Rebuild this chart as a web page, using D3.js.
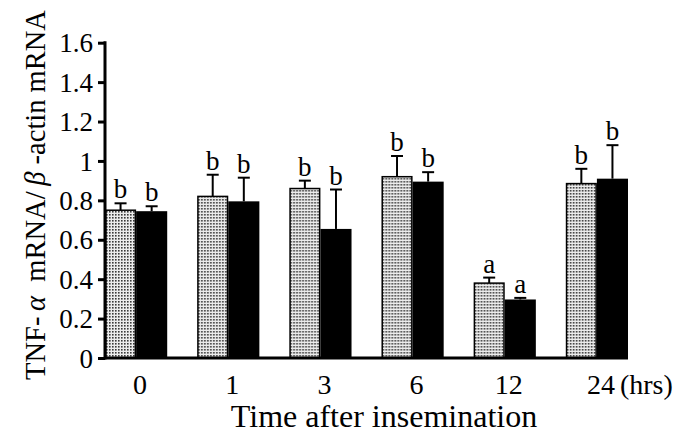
<!DOCTYPE html>
<html>
<head>
<meta charset="utf-8">
<script src="https://cdn.jsdelivr.net/npm/d3@7"></script>
<style>
body{margin:0;background:#fff;}
svg text{font-family:"Liberation Serif","Times New Roman",serif;fill:#000;}
</style>
</head>
<body>
<svg id="chart" width="691" height="442"></svg>
<script>
let categories=["0","1","3","6","12","24"];
let series=["gray","black"];
let grayMeans=[0.75,0.82,0.86,0.92,0.38,0.885];
let graySE=[0.035,0.11,0.04,0.105,0.028,0.075];
let grayLetters=["b","b","b","b","a","b"];
let blackMeans=[0.745,0.795,0.655,0.895,0.297,0.91];
let blackSE=[0.025,0.12,0.2,0.048,0.008,0.17];
let blackLetters=["b","b","b","b","a","b"];
let yTicks=[0,0.2,0.4,0.6,0.8,1,1.2,1.4,1.6];

const render=()=>{
  let svg=d3.select("#chart");
  let x=d3.scaleBand().domain(categories).range([105,628]).paddingInner(0.325).paddingOuter(0);
  let xs=d3.scaleBand().domain(series).range([0,x.bandwidth()]);
  let y=d3.scaleLinear().domain([0,1.6]).range([358,42.7]);

  let defs=svg.append("defs");
  let pat=defs.append("pattern")
    .attr("id","dots")
    .attr("patternUnits","userSpaceOnUse")
    .attr("width",3)
    .attr("height",3);
  pat.append("rect").attr("width",3).attr("height",3).attr("fill","#ececec");
  pat.append("rect").attr("x",1).attr("y",1).attr("width",1.6).attr("height",1.6).attr("fill","#3a3a3a");

  let rows=categories.map((c,i)=>[
    {cat:c,s:"gray",v:grayMeans[i],e:graySE[i],l:grayLetters[i]},
    {cat:c,s:"black",v:blackMeans[i],e:blackSE[i],l:blackLetters[i]}
  ]).flat();

  let bar=svg.append("g").selectAll("g")
    .data(rows)
    .enter()
      .append("g")
      .attr("transform",(d)=>`translate(${x(d.cat)+xs(d.s)},0)`);

  bar.append("line")
    .attr("x1",xs.bandwidth()/2)
    .attr("x2",xs.bandwidth()/2)
    .attr("y1",(d)=>y(d.v))
    .attr("y2",(d)=>y(d.v+d.e))
    .attr("stroke","#000")
    .attr("stroke-width",2);
  bar.append("line")
    .attr("x1",xs.bandwidth()/2-6)
    .attr("x2",xs.bandwidth()/2+6)
    .attr("y1",(d)=>y(d.v+d.e))
    .attr("y2",(d)=>y(d.v+d.e))
    .attr("stroke","#000")
    .attr("stroke-width",2);
  bar.append("rect")
    .attr("x",(d)=>d.s=="gray"?0.75:0)
    .attr("y",(d)=>y(d.v))
    .attr("width",(d)=>d.s=="gray"?xs.bandwidth()-1.5:xs.bandwidth())
    .attr("height",(d)=>y(0)-y(d.v))
    .attr("fill",(d)=>d.s=="gray"?"url(#dots)":"#000")
    .attr("stroke","#000")
    .attr("stroke-width",(d)=>d.s=="gray"?1.5:0);
  bar.append("text")
    .attr("x",xs.bandwidth()/2)
    .attr("y",(d)=>y(d.v+d.e)-5)
    .attr("text-anchor","middle")
    .style("font-size","27px")
    .text((d)=>d.l);

  let yAxis=svg.append("g")
    .attr("transform","translate(105,0)")
    .call(d3.axisLeft(y).tickValues(yTicks).tickSize(7).tickPadding(5).tickFormat(d3.format("")))
    .attr("font-family","Liberation Serif")
    .attr("font-size",27);
  yAxis.select(".domain").remove();
  yAxis.selectAll("line").attr("stroke","#000").attr("stroke-width",3);
  yAxis.selectAll("text").attr("dy","0.34em");
  svg.append("line")
    .attr("x1",105).attr("x2",105)
    .attr("y1",y(1.6)-1.5).attr("y2",y(0)+1.5)
    .attr("stroke","#000").attr("stroke-width",3);
  svg.append("line")
    .attr("x1",105).attr("x2",x.range()[1])
    .attr("y1",y(0)).attr("y2",y(0))
    .attr("stroke","#000").attr("stroke-width",3);

  svg.append("g").selectAll("text")
    .data(categories)
    .enter()
      .append("text")
      .attr("x",(d)=>x(d)+x.bandwidth()/2+4)
      .attr("y",394)
      .attr("text-anchor","middle")
      .style("font-size","28px")
      .text((d)=>d);
  svg.append("text")
    .attr("x",x("24")+x.bandwidth()/2+23)
    .attr("y",394)
    .style("font-size","28px")
    .text("(hrs)");

  svg.append("text")
    .attr("x",384)
    .attr("y",427)
    .attr("text-anchor","middle")
    .style("font-size","32px")
    .text("Time after insemination");

  let yt=svg.append("text")
    .attr("transform","translate(45,195) rotate(-90)")
    .attr("text-anchor","middle")
    .style("font-size","28.5px");
  yt.append("tspan").text("TNF-\u2009");
  yt.append("tspan").style("font-style","italic").text("\u03b1");
  yt.append("tspan").text("\u2002mRNA/\u2009");
  yt.append("tspan").style("font-style","italic").text("\u03b2");
  yt.append("tspan").text(" -actin mRNA");
}

window.onload=render;
</script>
</body>
</html>
